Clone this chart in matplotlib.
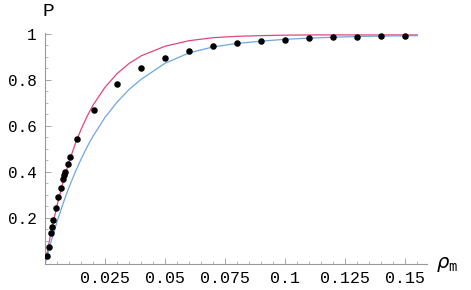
import numpy as np
import matplotlib
matplotlib.use("Agg")
from matplotlib import pyplot as plt
from matplotlib.ticker import MultipleLocator, FixedLocator

# measured points
rho_pts = [0.001, 0.0015, 0.0025, 0.003, 0.0035, 0.0045, 0.0055, 0.0065, 0.0075,
           0.008, 0.0085, 0.0095, 0.0105, 0.0135, 0.0205, 0.03, 0.04,
           0.05, 0.06, 0.07, 0.08, 0.09, 0.1, 0.11, 0.12, 0.13, 0.14, 0.15]
p_pts = [0.036, 0.073, 0.133, 0.162, 0.191, 0.242, 0.290, 0.330, 0.368,
         0.387, 0.401, 0.435, 0.465, 0.542, 0.670, 0.784, 0.851,
         0.896, 0.925, 0.945, 0.958, 0.968, 0.975, 0.981, 0.984, 0.987, 0.989, 0.990]

# theory curves
rho_curve = [0, 0.0025, 0.005, 0.0075, 0.01, 0.0125, 0.015, 0.0175, 0.02, 0.025,
             0.03, 0.035, 0.04, 0.05, 0.06, 0.07, 0.08, 0.09, 0.1, 0.11, 0.12,
             0.13, 0.14, 0.155]
p_red = [0, 0.136, 0.254, 0.355, 0.443, 0.519, 0.584, 0.641, 0.690, 0.768,
         0.827, 0.871, 0.904, 0.946, 0.970, 0.983, 0.989, 0.992, 0.994, 0.995,
         0.995, 0.995, 0.995, 0.995]
p_blue = [0, 0.096, 0.183, 0.262, 0.333, 0.397, 0.455, 0.508, 0.555, 0.637,
          0.703, 0.758, 0.802, 0.872, 0.917, 0.943, 0.958, 0.968, 0.976, 0.981,
          0.985, 0.988, 0.990, 0.992]

x_ticks = [0.025, 0.05, 0.075, 0.1, 0.125, 0.15]
x_labels = ["0.025", "0.05", "0.075", "0.1", "0.125", "0.15"]
y_ticks = [0.2, 0.4, 0.6, 0.8, 1.0]
y_labels = ["0.2", "0.4", "0.6", "0.8", "1"]

fig = plt.figure(figsize=(4.71, 2.9), dpi=100)
ax = fig.add_axes([0.0955, 0.0897, 0.811, 0.797])

ax.plot(rho_curve, p_red, color="#e0467c", lw=0.9)
ax.plot(rho_curve, p_blue, color="#6fa6e0", lw=0.9)
ax.scatter(rho_pts, p_pts, s=22, color="black", zorder=3, linewidths=0)

ax.set_xlim(0, 0.159)
ax.set_ylim(0, 1.004)

for side in ("top", "right"):
    ax.spines[side].set_visible(False)
for side in ("left", "bottom"):
    ax.spines[side].set_color("#999999")
    ax.spines[side].set_linewidth(0.8)

ax.xaxis.set_major_locator(FixedLocator(x_ticks))
ax.set_xticklabels(x_labels)
ax.yaxis.set_major_locator(FixedLocator(y_ticks))
ax.set_yticklabels(y_labels)
ax.xaxis.set_minor_locator(MultipleLocator(0.005))
ax.yaxis.set_minor_locator(MultipleLocator(0.05))

ax.tick_params(which="major", direction="in", length=4, width=0.6, color="#999999",
               labelsize=12, pad=5)
ax.tick_params(which="minor", direction="in", length=2, width=0.5, color="#999999")
ax.tick_params(axis="y", labelsize=11.5, pad=6)
for lab in ax.get_xticklabels() + ax.get_yticklabels():
    lab.set_family("Liberation Mono")

fig.text(48 / 471, 1 - 12 / 290, "P", family="Liberation Mono", fontsize=14,
         ha="center", va="center")
fig.text(436 / 471, 1 - 264 / 290, r"$\rho_{\mathtt{m}}$", fontsize=14,
         ha="left", va="center")

fig.savefig("out.png", dpi=100)
